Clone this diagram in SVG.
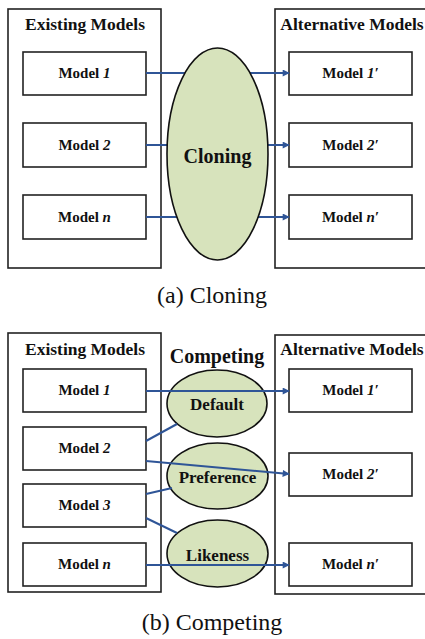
<svg xmlns="http://www.w3.org/2000/svg" width="425" height="639" viewBox="0 0 425 639">
  <defs>
    <marker id="arrow" viewBox="0 0 10 10" refX="9" refY="5" markerWidth="8" markerHeight="7" markerUnits="userSpaceOnUse" orient="auto">
      <path d="M0,0 L10,5 L0,10 z" fill="#2F5597"/>
    </marker>
    <style>
      .panel { fill: #fff; stroke: #222; stroke-width: 1.6; }
      .box { fill: #fff; stroke: #222; stroke-width: 1.6; }
      .oval { fill: #D7E3BC; stroke: #111; stroke-width: 1.6; }
      .link { fill: none; stroke: #2F5597; stroke-width: 2; }
      .arr { marker-end: url(#arrow); }
      text { font-family: "Liberation Serif", "Times New Roman", serif; fill: #111; }
      .lbl { font-size: 15px; font-weight: bold; text-anchor: middle; }
      .hdr { font-size: 17.5px; font-weight: bold; text-anchor: middle; }
      .op { font-size: 17px; font-weight: bold; text-anchor: middle; }
      .cap { font-size: 24px; text-anchor: middle; }
      .it { font-style: italic; }
    </style>
  </defs>

  <!-- (a) Cloning -->
  <g id="a-existing">
    <rect class="panel" x="8" y="9" width="153" height="259"/>
    <text class="hdr" x="85" y="30">Existing Models</text>
  </g>
  <g id="a-alternative">
    <rect class="panel" x="275" y="9" width="152" height="259"/>
    <text class="hdr" x="352" y="30">Alternative Models</text>
  </g>
  <g id="a-model1"><rect class="box" x="23" y="52" width="123" height="43"/><text class="lbl" x="84.5" y="78">Model <tspan class="it">1</tspan></text></g>
  <g id="a-model2"><rect class="box" x="23" y="123" width="123" height="44"/><text class="lbl" x="84.5" y="150">Model <tspan class="it">2</tspan></text></g>
  <g id="a-modeln"><rect class="box" x="23" y="195" width="123" height="44"/><text class="lbl" x="84.5" y="222">Model <tspan class="it">n</tspan></text></g>
  <g id="a-alt1"><rect class="box" x="289" y="52" width="123" height="43"/><text class="lbl" x="350.5" y="78">Model <tspan class="it">1′</tspan></text></g>
  <g id="a-alt2"><rect class="box" x="289" y="123" width="123" height="44"/><text class="lbl" x="350.5" y="150">Model <tspan class="it">2′</tspan></text></g>
  <g id="a-altn"><rect class="box" x="289" y="195" width="123" height="44"/><text class="lbl" x="350.5" y="222">Model <tspan class="it">n′</tspan></text></g>

  <g id="a-connectors">
    <line class="link arr" x1="146" y1="73" x2="289" y2="73"/>
    <line class="link arr" x1="146" y1="145" x2="289" y2="145"/>
    <line class="link arr" x1="146" y1="217" x2="289" y2="217"/>
  </g>

  <g id="a-cloning">
    <ellipse class="oval" cx="217.5" cy="154" rx="50.5" ry="106"/>
    <text x="217.5" y="163" style="font-size:20px;font-weight:bold;text-anchor:middle">Cloning</text>
  </g>

  <text class="cap" x="212" y="303">(a) Cloning</text>

  <!-- (b) Competing -->
  <g id="b-existing">
    <rect class="panel" x="8" y="333" width="153" height="259"/>
    <text class="hdr" x="85" y="355">Existing Models</text>
  </g>
  <g id="b-alternative">
    <rect class="panel" x="275" y="335" width="152" height="259"/>
    <text class="hdr" x="352" y="355">Alternative Models</text>
  </g>
  <g id="b-model1"><rect class="box" x="23" y="369" width="123" height="43"/><text class="lbl" x="84.5" y="395">Model <tspan class="it">1</tspan></text></g>
  <g id="b-model2"><rect class="box" x="23" y="427" width="123" height="43"/><text class="lbl" x="84.5" y="453">Model <tspan class="it">2</tspan></text></g>
  <g id="b-model3"><rect class="box" x="23" y="484" width="123" height="43"/><text class="lbl" x="84.5" y="510">Model <tspan class="it">3</tspan></text></g>
  <g id="b-modeln"><rect class="box" x="23" y="543" width="123" height="43"/><text class="lbl" x="84.5" y="569">Model <tspan class="it">n</tspan></text></g>
  <g id="b-alt1"><rect class="box" x="289" y="369" width="123" height="43"/><text class="lbl" x="350.5" y="395">Model <tspan class="it">1′</tspan></text></g>
  <g id="b-alt2"><rect class="box" x="289" y="453" width="123" height="43"/><text class="lbl" x="350.5" y="479">Model <tspan class="it">2′</tspan></text></g>
  <g id="b-altn"><rect class="box" x="289" y="543" width="123" height="43"/><text class="lbl" x="350.5" y="569">Model <tspan class="it">n′</tspan></text></g>

  <text x="217" y="363" style="font-size:20px;font-weight:bold;text-anchor:middle">Competing</text>

  <g id="b-default">
    <ellipse class="oval" cx="217" cy="403.5" rx="50" ry="33.5"/>
    <text class="op" x="217" y="410">Default</text>
  </g>
  <g id="b-preference">
    <ellipse class="oval" cx="217.5" cy="476" rx="50.5" ry="33"/>
    <text class="op" x="217.5" y="483">Preference</text>
  </g>
  <g id="b-likeness">
    <ellipse class="oval" cx="217.5" cy="553.5" rx="50.5" ry="33.5"/>
    <text class="op" x="217.5" y="561">Likeness</text>
  </g>

  <g id="b-connectors">
    <line class="link arr" x1="146" y1="391" x2="289" y2="391"/>
    <line class="link" x1="146" y1="441" x2="177" y2="424"/>
    <line class="link arr" x1="146" y1="461" x2="289" y2="474"/>
    <line class="link" x1="146" y1="494" x2="172" y2="488"/>
    <line class="link" x1="146" y1="518" x2="177" y2="533"/>
    <line class="link arr" x1="146" y1="565" x2="289" y2="565"/>
  </g>

  <text class="cap" x="212" y="630">(b) Competing</text>
</svg>
